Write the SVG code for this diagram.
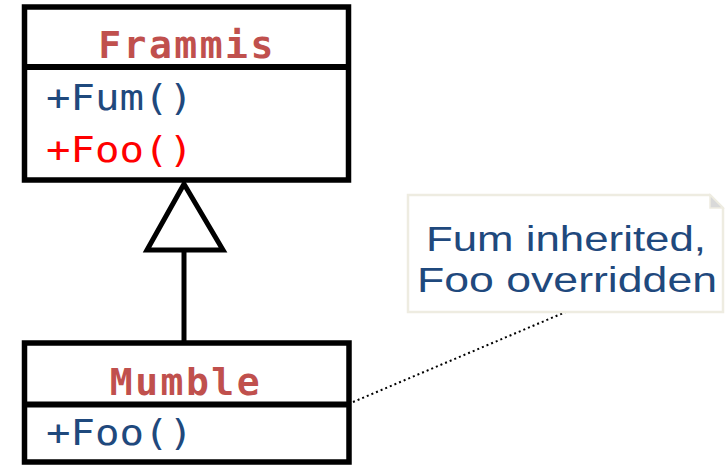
<svg xmlns="http://www.w3.org/2000/svg" width="727" height="465" viewBox="0 0 727 465">
  <style>
    .box { fill: #ffffff; stroke: #000000; stroke-width: 5.5; }
    .div { stroke: #000000; stroke-width: 6; }
    .cls { font-family: "DejaVu Sans Mono", "Liberation Mono", monospace; font-weight: bold; font-size: 38px; fill: #C0504D; text-anchor: middle; }
    .op { font-family: "DejaVu Sans Mono", "Liberation Mono", monospace; font-size: 35px; fill: #1F497D; }
    .op.over { fill: #FF0000; }
    .note-text { font-family: "Liberation Sans", "DejaVu Sans", sans-serif; font-size: 35px; fill: #1F497D; text-anchor: middle; }
  </style>

  <g id="connectors">
    <line x1="184" y1="250" x2="184" y2="342" stroke="#000" stroke-width="5"/>
    <polygon points="184,184 223,250 147,250" fill="#ffffff" stroke="#000" stroke-width="5" stroke-linejoin="miter"/>
    <line x1="353" y1="402" x2="568" y2="311" stroke="#000" stroke-width="2" stroke-dasharray="2,3"/>
  </g>

  <g id="frammis">
    <rect class="box" x="24.5" y="7" width="324" height="173"/>
    <line class="div" x1="24.5" y1="67" x2="348.5" y2="67"/>
    <text class="cls" x="187" y="58" letter-spacing="2.5">Frammis</text>
    <text class="op" x="46" y="110" textLength="147" lengthAdjust="spacingAndGlyphs">+Fum()</text>
    <text class="op over" x="46" y="162" textLength="147" lengthAdjust="spacingAndGlyphs">+Foo()</text>
  </g>

  <g id="mumble">
    <rect class="box" x="24.5" y="343" width="324.5" height="119"/>
    <line class="div" x1="24.5" y1="404.5" x2="349" y2="404.5"/>
    <text class="cls" x="186" y="395" letter-spacing="2.5">Mumble</text>
    <text class="op" x="46" y="445" textLength="147" lengthAdjust="spacingAndGlyphs">+Foo()</text>
  </g>

  <g id="note">
    <path d="M408,195 H710 L723,208 V312 H408 Z" fill="#ffffff" stroke="#EEECE1" stroke-width="2.5"/>
    <path d="M710,195 L710,208 L723,208 Z" fill="#D9D9D9" stroke="#EEECE1" stroke-width="1.5"/>
    <text class="note-text" x="566" y="251" textLength="280" lengthAdjust="spacingAndGlyphs">Fum inherited,</text>
    <text class="note-text" x="567" y="292" textLength="300" lengthAdjust="spacingAndGlyphs">Foo overridden</text>
  </g>
</svg>
